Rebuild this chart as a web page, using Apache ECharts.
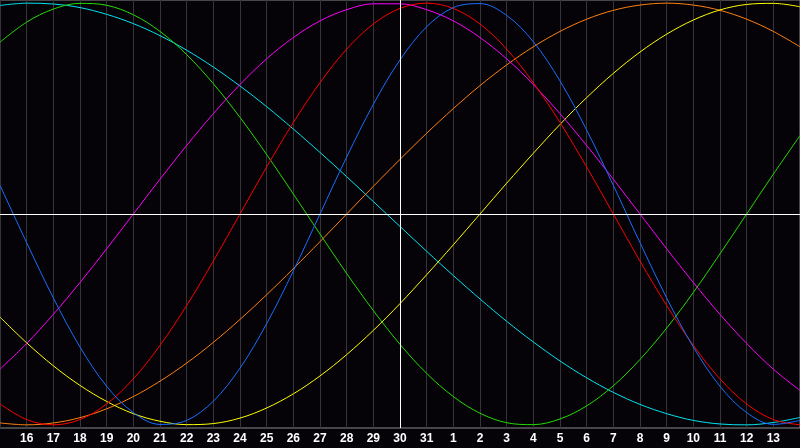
<!DOCTYPE html>
<html>
<head>
<meta charset="utf-8">
<script src="https://cdn.jsdelivr.net/npm/echarts@6/dist/echarts.min.js"></script>
<style>
html,body{margin:0;padding:0;background:#050308;}
#chart{width:800px;height:448px;}
</style>
</head>
<body>
<div id="chart"></div>
<script>
var days = ['15','16','17','18','19','20','21','22','23','24','25','26','27','28','29','30','31','1','2','3','4','5','6','7','8','9','10','11','12','13','14'];
var today = '30';

var physical = [0.136,-0.136,-0.398,-0.631,-0.817,-0.942,-0.998,-0.979,-0.888,-0.731,-0.520,-0.270,0,0.270,0.520,0.731,0.888,0.979,0.998,0.942,0.817,0.631,0.398,0.136,-0.136,-0.398,-0.631,-0.817,-0.942,-0.998,-0.979];
var emotional = [-0.901,-0.975,-1,-0.975,-0.901,-0.782,-0.623,-0.434,-0.223,0,0.223,0.434,0.623,0.782,0.901,0.975,1,0.975,0.901,0.782,0.623,0.434,0.223,0,-0.223,-0.434,-0.623,-0.782,-0.901,-0.975,-1];
var intellectual = [0.815,0.910,0.972,0.999,0.990,0.945,0.866,0.756,0.618,0.458,0.282,0.095,-0.095,-0.282,-0.458,-0.618,-0.756,-0.866,-0.945,-0.990,-0.999,-0.972,-0.910,-0.815,-0.690,-0.541,-0.372,-0.189,0,0.189,0.372];
var intuitive = [-0.736,-0.614,-0.476,-0.325,-0.165,0,0.165,0.325,0.476,0.614,0.736,0.837,0.916,0.969,0.997,0.997,0.969,0.916,0.837,0.736,0.614,0.476,0.325,0.165,0,-0.165,-0.325,-0.476,-0.614,-0.736,-0.837];
var aesthetic = [-0.489,-0.611,-0.720,-0.813,-0.889,-0.947,-0.983,-0.999,-0.994,-0.968,-0.920,-0.853,-0.768,-0.667,-0.552,-0.425,-0.288,-0.146,0,0.146,0.288,0.425,0.552,0.667,0.768,0.853,0.920,0.968,0.994,0.999,0.983];
var awareness = [-0.991,-1,-0.991,-0.966,-0.924,-0.866,-0.793,-0.707,-0.609,-0.5,-0.383,-0.259,-0.131,0,0.131,0.259,0.383,0.5,0.609,0.707,0.793,0.866,0.924,0.966,0.991,1,0.991,0.966,0.924,0.866,0.793];
var spiritual = [0.989,1.000,0.996,0.979,0.947,0.903,0.846,0.777,0.697,0.607,0.509,0.403,0.292,0.177,0.059,-0.059,-0.177,-0.292,-0.403,-0.509,-0.607,-0.697,-0.777,-0.846,-0.903,-0.947,-0.979,-0.996,-1.000,-0.989,-0.965];

var seriesDefs = [
  {name:'Spiritual', data:spiritual, color:'#00e4f0'},
  {name:'Intellectual', data:intellectual, color:'#22dd00'},
  {name:'Awareness', data:awareness, color:'#ff8010'},
  {name:'Aesthetic', data:aesthetic, color:'#ffff00'},
  {name:'Intuitive', data:intuitive, color:'#ff00ff'},
  {name:'Emotional', data:emotional, color:'#ff0000'},
  {name:'Physical', data:physical, color:'#1a6eff'}
];

var series = seriesDefs.map(function(s){
  return {
    name:s.name, type:'line', data:s.data, smooth:0.35, showSymbol:false,
    lineStyle:{color:s.color, width:1}, itemStyle:{color:s.color}, z:3
  };
});
series.push({
  type:'line', data:[], silent:true, z:2,
  markLine:{
    silent:true, symbol:'none', label:{show:false},
    lineStyle:{color:'#ffffff', width:1, type:'solid'},
    data:[{yAxis:0},{xAxis:today}]
  }
});

var last = days.length - 1;
var chart = echarts.init(document.getElementById('chart'), null, {renderer:'canvas'});
chart.setOption({
  backgroundColor:'#050308',
  animation:false,
  grid:{left:0, right:0, top:0, bottom:20, containLabel:false, outerBoundsMode:'none', show:true, borderColor:'#8a8a8a', borderWidth:1, backgroundColor:'#050308'},
  xAxis:{
    type:'category', data:days, boundaryGap:false,
    axisLine:{show:true, lineStyle:{color:'#8a8a8a', width:1}},
    axisTick:{show:false},
    axisLabel:{color:'#ffffff', fontWeight:'bold', fontSize:12, fontFamily:'Liberation Sans', margin:5,
      interval:function(index){ return index > 0 && index < last; }},
    splitLine:{show:true, interval:0, lineStyle:{color:'#363438', width:1}}
  },
  yAxis:{
    type:'value', min:-1.015, max:1.015,
    axisLine:{show:false}, axisTick:{show:false}, axisLabel:{show:false}, splitLine:{show:false}
  },
  series:series
});
</script>
</body>
</html>
